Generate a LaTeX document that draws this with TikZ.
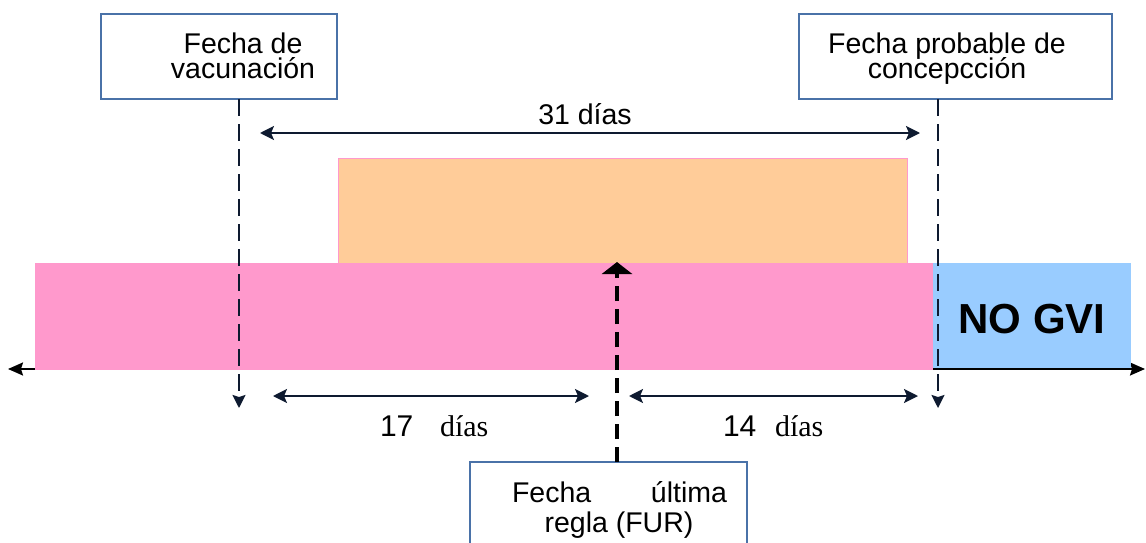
\documentclass[tikz,border=0pt]{standalone}
\usepackage{fontspec}
\setmainfont{Liberation Sans}
\newfontfamily\serifm{Liberation Serif}
\usetikzlibrary{arrows.meta}
\definecolor{pinkc}{HTML}{FF99CC}
\definecolor{orangec}{HTML}{FFCC99}
\definecolor{bluec}{HTML}{99CCFF}
\definecolor{boxc}{HTML}{4A72A8}
\definecolor{arrc}{HTML}{0E1A30}
\lineskiplimit=-50pt
\begin{document}
\begin{tikzpicture}[x=1pt,y=-1pt,
 labelbox/.style={draw=boxc,line width=1.3pt,fill=white,inner sep=0pt,outer sep=0pt,anchor=north west},
 band/.style={inner sep=0pt,outer sep=0pt,anchor=north west},
 txt/.style={inner sep=0pt,outer sep=0pt,anchor=base,font=\fontsize{28.5}{25}\selectfont},
 mtxt/.style={inner sep=0pt,outer sep=0pt,anchor=north,align=center,font={\fontsize{28.5}{25}\selectfont\lineskiplimit=-50pt}},
 btxt/.style={inner sep=0pt,outer sep=0pt,anchor=base west,font=\fontsize{30}{30}\selectfont},
 span/.style={draw=arrc,line width=2pt,{Stealth[length=14pt,width=14pt,inset=3pt]}-{Stealth[length=14pt,width=14pt,inset=3pt]}},
 drop/.style={draw=arrc,line width=2pt,dash pattern=on 17pt off 8pt,-{Stealth[length=13pt,width=13pt,inset=2pt]}},
 rise/.style={draw=black,line width=4pt,dash pattern=on 15pt off 8pt,-{Triangle[length=12pt,width=30pt]}},
 axisline/.style={draw=black,line width=2pt,{Stealth[length=15pt,width=13pt,inset=2pt]}-{Stealth[length=15pt,width=13pt,inset=2pt]}}
]
\useasboundingbox (0,0) rectangle (1146,543);
\clip (0,0) rectangle (1146,543);
\fill[white] (0,0) rectangle (1146,543);

% axis
\coordinate (axL) at (8,369);
\coordinate (axR) at (1145,369);
\draw[axisline] (axL) -- (axR);

% bands
\node[band,fill=pinkc,minimum width=898pt,minimum height=107pt] (pinkband) at (35,263) {};
\node[band,fill=orangec,draw=pinkc,line width=1pt,minimum width=569pt,minimum height=105pt] (window) at (338,158) {};
\node[band,fill=bluec,minimum width=198pt,minimum height=105pt] (blueband) at (933,263) {};
\node[inner sep=0pt,outer sep=0pt,anchor=base,font=\bfseries\fontsize{42}{42}\selectfont] (nogvi) at (1032,333) {NO GVI};

% label boxes
\node[labelbox,minimum width=236pt,minimum height=85pt] (vac) at (101,14) {};
\node[labelbox,minimum width=313pt,minimum height=85pt] (conc) at (799,14) {};
\node[labelbox,minimum width=277pt,minimum height=98pt] (fur) at (470,462) {};

\node[mtxt] (vactxt) at (243,32.5) {Fecha de\\vacunación};
\node[mtxt] (conctxt) at (947,32.5) {Fecha probable de\\concepcción};
\node[txt] (fur1) at (619.5,502) {\makebox[215pt]{Fecha\hfill última}};
\node[txt] (fur2) at (619,532) {regla (FUR)};

% dashed connectors
\coordinate (vacfoot) at (239,408);
\coordinate (concfoot) at (938,408);
\coordinate (furtop) at (617,262);
\draw[drop] (vacfoot |- vac.south) -- (vacfoot);
\draw[drop] (concfoot |- conc.south) -- (concfoot);
\draw[rise] (furtop |- fur.north) -- (furtop);

% spans
\coordinate (s31a) at (260,133);
\coordinate (s31b) at (920,133);
\draw[span] (s31a) -- (s31b);
\node[txt] (t31) at (585,124) {31 días};

\coordinate (s17a) at (273,396);
\coordinate (s17b) at (589,396);
\draw[span] (s17a) -- (s17b);
\coordinate (s14a) at (629,396);
\coordinate (s14b) at (918,396);
\draw[span] (s14a) -- (s14b);

\node[btxt] (n17) at (380,436) {17};
\node[btxt,font=\serifm\fontsize{30}{30}\selectfont] (d17) at (440,436) {días};
\node[btxt] (n14) at (723,436) {14};
\node[btxt,font=\serifm\fontsize{30}{30}\selectfont] (d14) at (775,436) {días};
\end{tikzpicture}
\end{document}
